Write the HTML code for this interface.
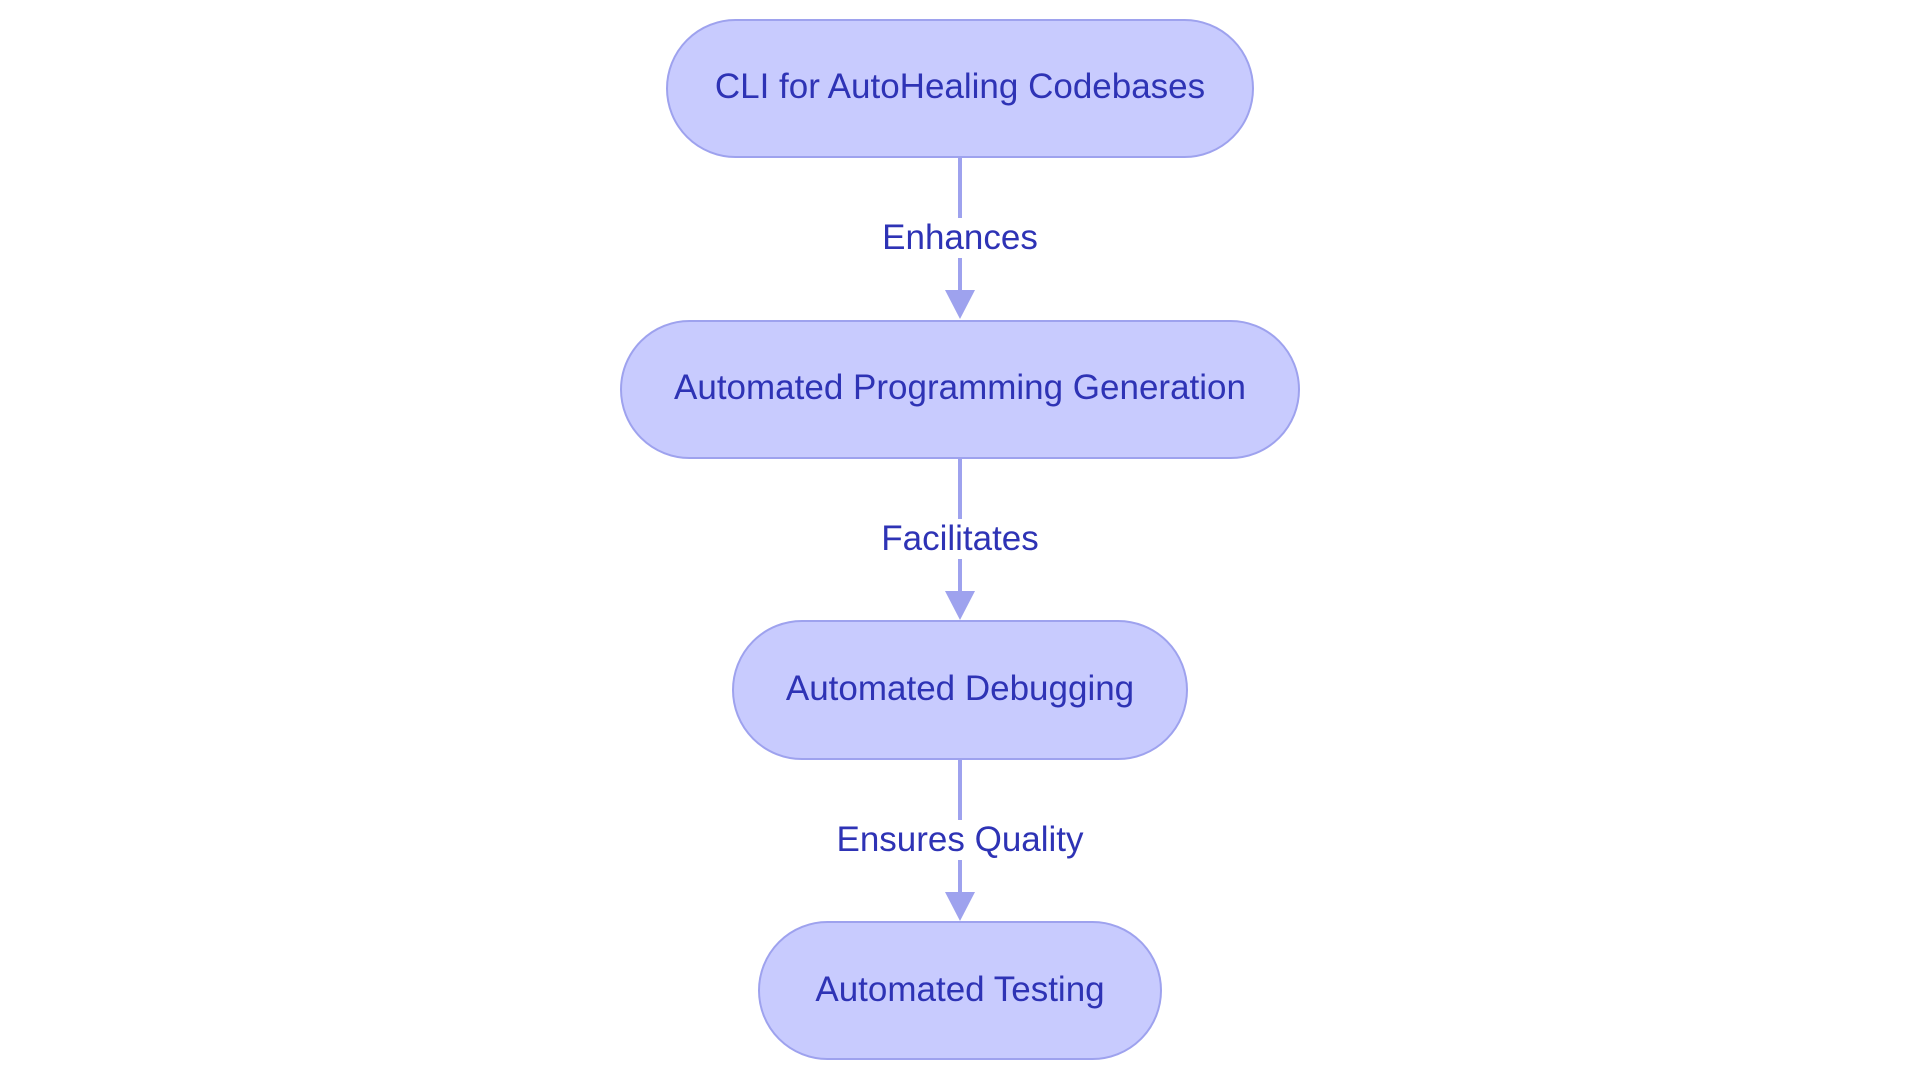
<!DOCTYPE html>
<html><head><meta charset="utf-8"><style>html,body{margin:0;padding:0;background:#fff}svg{display:block}</style></head>
<body>
<svg width="1920" height="1083" viewBox="0 0 1920 1083" xmlns="http://www.w3.org/2000/svg" font-family="Liberation Sans, sans-serif">
<g stroke="#9ea2ee" stroke-width="4">
<line x1="960" y1="157" x2="960" y2="292"/>
<line x1="960" y1="459" x2="960" y2="593"/>
<line x1="960" y1="760" x2="960" y2="894"/>
</g>
<g fill="#9ea2ee">
<polygon points="945,290 975,290 960,319"/>
<polygon points="945,591 975,591 960,620"/>
<polygon points="945,892 975,892 960,921"/>
</g>
<g fill="#fff">
<rect x="870" y="218" width="180" height="40"/>
<rect x="860" y="519" width="200" height="40"/>
<rect x="820" y="820" width="280" height="40"/>
</g>
<g fill="#c8cbfe" stroke="#9ea2ee" stroke-width="2">
<rect x="667" y="20" width="586" height="137" rx="68.5"/>
<rect x="621" y="321" width="678" height="137" rx="68.5"/>
<rect x="733" y="621" width="454" height="138" rx="69"/>
<rect x="759" y="922" width="402" height="137" rx="68.5"/>
</g>
<g fill="#2e33b5" font-size="35" text-anchor="middle">
<text x="960" y="98">CLI for AutoHealing Codebases</text>
<text x="960" y="399">Automated Programming Generation</text>
<text x="960" y="700">Automated Debugging</text>
<text x="960" y="1001">Automated Testing</text>
<text x="960" y="249">Enhances</text>
<text x="960" y="550">Facilitates</text>
<text x="960" y="851">Ensures Quality</text>
</g>
</svg>
</body></html>
